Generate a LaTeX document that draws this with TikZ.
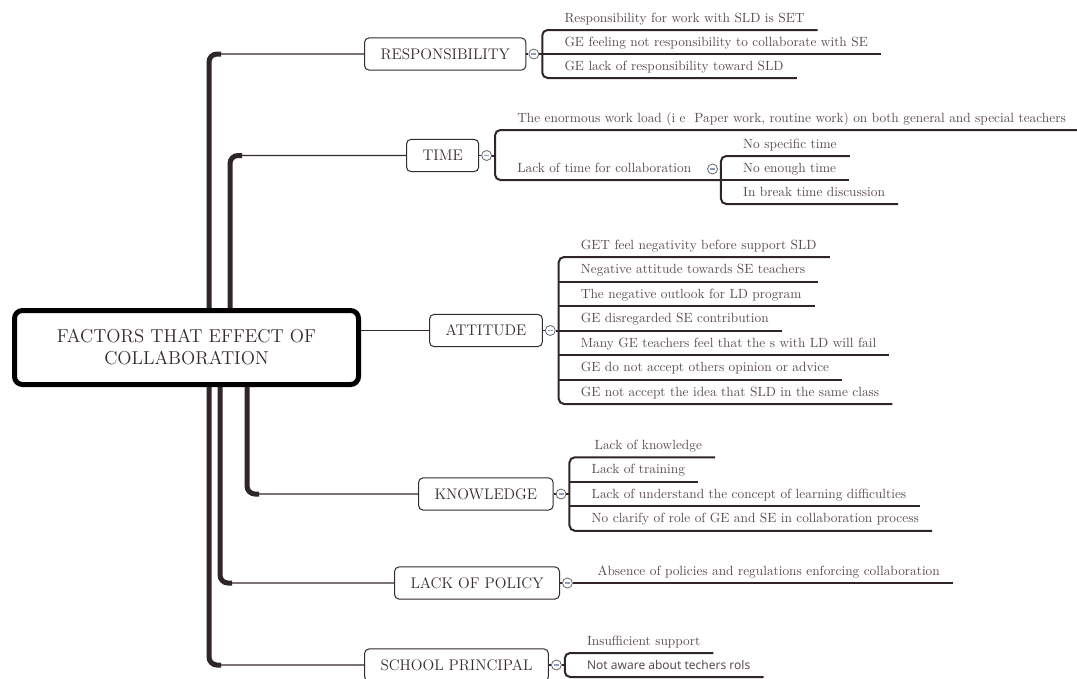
\documentclass[tikz,border=0pt]{standalone}
\usepackage{fontspec}
\newfontfamily\notefont{Noto Sans}
\usepackage{xcolor}
\usetikzlibrary{positioning,calc}
\definecolor{trunkcol}{HTML}{2F252A}
\definecolor{inkcol}{HTML}{33292E}
\definecolor{leafcol}{HTML}{5A4A51}
\definecolor{foldcol}{HTML}{8C9CC4}

\begin{document}
\begin{tikzpicture}[
    x=0.75pt, y=-0.75pt,
    centrebox/.style={
      rectangle, rounded corners=6pt, draw=black, line width=3.75pt, fill=white,
      minimum width=258pt, minimum height=55.5pt, align=center, text=inkcol,
      font=\fontsize{14}{16.5}\selectfont
    },
    topicbox/.style={
      rectangle, rounded corners=3.5pt, draw=inkcol, line width=0.75pt, fill=white,
      anchor=west, inner xsep=12pt, minimum height=24.2pt, text=inkcol,
      font=\fontsize{11.5}{14}\selectfont
    },
    fold/.style={
      circle, draw=gray!80!black, line width=0.6pt, fill=white, minimum size=7.5pt, inner sep=0pt,
      path picture={\draw[foldcol, line width=0.8pt]
        ($(path picture bounding box.center)+(-2.5,0)$) -- ($(path picture bounding box.center)+(2.5,0)$);}
    },
    leaf/.style={anchor=base west, inner sep=0pt, text=leafcol, font=\fontsize{10}{12}\selectfont},
    trunk/.style={trunkcol, line width=3.75pt, rounded corners=6pt},
    twig/.style={inkcol, line width=0.8pt, rounded corners=6pt},
    uline/.style={trunkcol, line width=1.5pt, rounded corners=4pt}
  ]
    \useasboundingbox (0,0) rectangle (1077,678);

    % Central topic
    \node[centrebox] (centre) at (186.5,347.5) {FACTORS THAT EFFECT OF\\COLLABORATION};

    % Trunk positions
    \coordinate (tResp) at (209,0);
    \coordinate (tTime) at (230,0);
    \coordinate (tKnow) at (247,0);
    \coordinate (tPol) at (220,0);
    \coordinate (tPrin) at (209,0);

    % Main topics
    \node[topicbox] (resp) at (364,54) {RESPONSIBILITY};
    \node[topicbox] (time) at (406,155.5) {TIME};
    \node[topicbox] (att) at (429,330.5) {ATTITUDE};
    \node[topicbox] (know) at (418,494) {KNOWLEDGE};
    \node[topicbox] (pol) at (394,583) {LACK OF POLICY};
    \node[topicbox] (prin) at (364,665) {SCHOOL PRINCIPAL};

    % Branches from the centre
    \draw[twig] (tResp |- centre.north) |- (resp.west);
    \draw[trunk] (tResp |- centre.north) |- ($(tResp |- resp.west)+(12,0)$);
    \draw[twig] (tTime |- centre.north) |- (time.west);
    \draw[trunk] (tTime |- centre.north) |- ($(tTime |- time.west)+(12,0)$);
    \draw[twig] (centre.east |- att.west) -- (att.west);
    \draw[twig] (tKnow |- centre.south) |- (know.west);
    \draw[trunk] (tKnow |- centre.south) |- ($(tKnow |- know.west)+(12,0)$);
    \draw[twig] (tPol |- centre.south) |- (pol.west);
    \draw[trunk] (tPol |- centre.south) |- ($(tPol |- pol.west)+(12,0)$);
    \draw[twig] (tPrin |- centre.south) |- (prin.west);
    \draw[trunk] (tPrin |- centre.south) |- ($(tPrin |- prin.west)+(12,0)$);

    % Fold markers
    \node[fold, right=1.5pt of resp] (fResp) {};
    \node[fold, right=1.5pt of time] (fTime) {};
    \node[fold, right=1.5pt of att] (fAtt) {};
    \node[fold, right=1.5pt of know] (fKnow) {};
    \node[fold, right=1.5pt of pol] (fPol) {};
    \node[fold, right=1.5pt of prin] (fPrin) {};
    \draw[twig] (resp.east) -- (fResp.west);
    \draw[twig] (time.east) -- (fTime.west);
    \draw[twig] (att.east) -- (fAtt.west);
    \draw[twig] (know.east) -- (fKnow.west);
    \draw[twig] (pol.east) -- (fPol.west);
    \draw[twig] (prin.east) -- (fPrin.west);

    % Responsibility
    \coordinate (bResp) at ($(fResp.east)+(3,0)$);
    \node[leaf] (r1) at ($(bResp)+(22,-32)$) {Responsibility for work with SLD is SET};
    \node[leaf] (r2) at ($(bResp)+(22,-8)$) {GE feeling not responsibility to collaborate with SE};
    \node[leaf] (r3) at ($(bResp)+(22,16)$) {GE lack of responsibility toward SLD};
    \draw[uline] ($(r1.base east)+(13,8)$) -| (bResp) |- ($(r3.base east)+(13,8)$);
    \draw[uline] (fResp.east) -- ($(r2.base east)+(13,8)$);

    % Time
    \coordinate (bTime) at ($(fTime.east)+(3,0)$);
    \node[leaf] (t1) at ($(bTime)+(22,-33.5)$) {The enormous work load (i e\ \ Paper work, routine work) on both general and special teachers};
    \node[leaf] (t2) at ($(bTime)+(22,16.5)$) {Lack of time for collaboration};
    \node[fold] (fLack) at ($(t2.base east)+(21,-3)$) {};
    \coordinate (bLack) at ($(fLack.east)+(3,11)$);
    \draw[uline] ($(t1.base east)+(13,8)$) -| (bTime) |- (bLack);
    \draw[uline] (fTime.east) -- (bTime);
    \node[leaf] (s1) at ($(bLack)+(22,-32)$) {No specific time};
    \node[leaf] (s2) at ($(bLack)+(22,-8)$) {No enough time};
    \node[leaf] (s3) at ($(bLack)+(22,16)$) {In break time discussion};
    \draw[uline] ($(s1.base east)+(13,8)$) -| (bLack) |- ($(s3.base east)+(13,8)$);
    \draw[uline] (bLack) -- ($(s2.base east)+(13,8)$);

    % Attitude
    \coordinate (bAtt) at ($(fAtt.east)+(3,0)$);
    \node[leaf] (a1) at ($(bAtt)+(22,-81.5)$) {GET feel negativity before support SLD};
    \node[leaf] (a2) at ($(bAtt)+(22,-57)$) {Negative attitude towards SE teachers};
    \node[leaf] (a3) at ($(bAtt)+(22,-32.5)$) {The negative outlook for LD program};
    \node[leaf] (a4) at ($(bAtt)+(22,-8)$) {GE disregarded SE contribution};
    \node[leaf] (a5) at ($(bAtt)+(22,16.5)$) {Many GE teachers feel that the s with LD will fail};
    \node[leaf] (a6) at ($(bAtt)+(22,41)$) {GE do not accept others opinion or advice};
    \node[leaf] (a7) at ($(bAtt)+(22,65.5)$) {GE not accept the idea that SLD in the same class};
    \draw[uline] ($(a1.base east)+(13,8)$) -| (bAtt) |- ($(a7.base east)+(13,8)$);
    \draw[uline] ($(a2.base west)+(-22,8)$) -- ($(a2.base east)+(13,8)$);
    \draw[uline] ($(a3.base west)+(-22,8)$) -- ($(a3.base east)+(13,8)$);
    \draw[uline] (fAtt.east) -- ($(a4.base east)+(13,8)$);
    \draw[uline] ($(a5.base west)+(-22,8)$) -- ($(a5.base east)+(13,8)$);
    \draw[uline] ($(a6.base west)+(-22,8)$) -- ($(a6.base east)+(13,8)$);

    % Knowledge
    \coordinate (bKnow) at ($(fKnow.east)+(3,0)$);
    \node[leaf] (k1) at ($(bKnow)+(25,-44.75)$) {Lack of knowledge};
    \node[leaf] (k2) at ($(bKnow)+(22,-20.25)$) {Lack of training};
    \node[leaf] (k3) at ($(bKnow)+(22,4.25)$) {Lack of understand the concept of learning difficulties};
    \node[leaf] (k4) at ($(bKnow)+(22,28.75)$) {No clarify of role of GE and SE in collaboration process};
    \draw[uline] ($(k1.base east)+(13,8)$) -| (bKnow) |- ($(k4.base east)+(13,8)$);
    \draw[uline] ($(k2.base west)+(-22,8)$) -- ($(k2.base east)+(13,8)$);
    \draw[uline] ($(k3.base west)+(-22,8)$) -- ($(k3.base east)+(13,8)$);
    \draw[uline] (fKnow.east) -- (bKnow);

    % Lack of policy
    \node[leaf] (l1) at ($(fPol.east)+(24.5,-8)$) {Absence of policies and regulations enforcing collaboration};
    \draw[uline] (fPol.east) -- ($(l1.base east)+(13,8)$);

    % School principal
    \coordinate (bPrin) at ($(fPrin.east)+(3,0)$);
    \node[leaf] (p1) at ($(bPrin)+(22,-20)$) {Insufficient support};
    \node[leaf, font=\notefont\fontsize{9}{11}\selectfont] (p2) at ($(bPrin)+(22,4)$) {Not aware about techers rols};
    \draw[uline] ($(p1.base east)+(13,8)$) -| (bPrin) |- ($(p2.base east)+(13,8)$);
    \draw[uline] (fPrin.east) -- (bPrin);

  \end{tikzpicture}
\end{document}
